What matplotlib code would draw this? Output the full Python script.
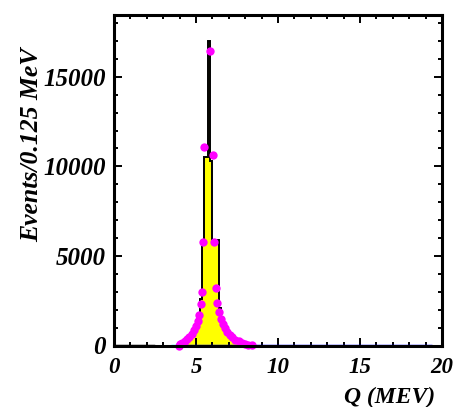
import numpy as np
import matplotlib
matplotlib.use("Agg")
import matplotlib.pyplot as plt
from matplotlib.ticker import MultipleLocator

# Histogram: 0.125 MeV bins over 0-20 MeV; only the listed bins are non-zero
bin_width = 0.125
x_range = (0.0, 20.0)

# low-level yellow entries below the peak
low_edges = [2.375, 2.5, 2.625, 2.75, 2.875, 3.0, 3.125, 3.25, 3.375]
low_counts = [40, 40, 40, 40, 40, 40, 40, 40, 40]

# peak region (lower bin edges and counts)
peak_edges = [4.0, 4.125, 4.25, 4.375, 4.5, 4.625, 4.75, 4.875, 5.0,
              5.125, 5.25, 5.375, 5.5, 5.625, 5.75, 5.875, 6.0, 6.125, 6.25,
              6.375, 6.5, 6.625, 6.75, 6.875, 7.0, 7.125, 7.25, 7.375, 7.5,
              7.625, 7.75, 7.875]
peak_counts = [80, 160, 250, 340, 430, 540, 680, 850, 1050,
               1400, 2600, 5900, 10500, 10500, 17000, 10300, 5900, 5900, 5900,
               2100, 1400, 1000, 750, 560, 430, 320, 240, 175, 125,
               85, 55, 30]

# fitted line shape drawn as markers
fit_x = [3.95, 4.05, 4.15, 4.3, 4.45, 4.6, 4.75, 4.9, 5.0, 5.1, 5.2, 5.28,
         5.35, 5.41, 5.47, 5.84, 6.02, 6.08, 6.2, 6.3, 6.39, 6.5, 6.62,
         6.75, 6.9, 7.05, 7.2, 7.4, 7.6, 7.8, 8.0, 8.2, 8.4]
fit_y = [0, 60, 150, 260, 380, 500, 650, 850, 1100, 1350, 1700, 2300,
         2970, 5770, 11090, 16420, 10640, 5770, 3190, 2400, 1850, 1500, 1200,
         950, 750, 580, 450, 330, 230, 150, 90, 45, 15]

# flat background component
bkg_x = [3.8, 19.4]
bkg_y = [0, 0]
bkg_edge_x = [3.45, 3.8]
bkg_edge_y = [0, 0]

x_ticks = [0, 5, 10, 15, 20]
y_ticks = [0, 5000, 10000, 15000]

W, H, DPI = 458, 407, 100
fig = plt.figure(figsize=(W / DPI, H / DPI), dpi=DPI)
ax = fig.add_axes([114 / W, 1 - 345.5 / H, (442 - 114) / W, (345.5 - 15) / H])

serif = {"family": "Liberation Serif", "weight": "bold", "style": "italic"}

# full binning
edges = np.arange(x_range[0], x_range[1] + bin_width / 2, bin_width)
counts = np.zeros(len(edges) - 1)
for e, c in zip(low_edges + peak_edges, low_counts + peak_counts):
    counts[int(round((e - x_range[0]) / bin_width))] = c

ax.stairs(counts, edges, fill=True, color="#ffff00", zorder=1)

# black outline over the peak region
pk = np.array(peak_edges)
pk_edges = np.append(pk, pk[-1] + bin_width)
ax.stairs(np.array(peak_counts), pk_edges, fill=False, color="black",
          linewidth=1.4, baseline=0, zorder=2)
ax.plot([x_range[0], low_edges[0]], [0, 0], color="black", lw=2.5, zorder=2)

ax.plot(bkg_edge_x, bkg_edge_y, color="#00ffff", lw=2.5, zorder=3,
        solid_capstyle="butt")
ax.plot(bkg_x, bkg_y, color="#0000ff", lw=2.5, zorder=3,
        solid_capstyle="butt")

ax.plot(fit_x, fit_y, linestyle="none", marker="o", markersize=6.0,
        color="#ff00ff", markeredgewidth=0, zorder=4, clip_on=False)

ax.set_xlim(*x_range)
ax.set_ylim(0, 18450)

ax.xaxis.set_major_locator(MultipleLocator(5))
ax.xaxis.set_minor_locator(MultipleLocator(1))
ax.yaxis.set_major_locator(MultipleLocator(5000))
ax.yaxis.set_minor_locator(MultipleLocator(1000))
ax.set_xticks(x_ticks)
ax.set_yticks(y_ticks)
ax.set_xticklabels([str(v) for v in x_ticks])
ax.set_yticklabels([str(v) for v in y_ticks])

ax.tick_params(which="both", direction="in", top=True, right=True,
               width=1.4, color="black")
ax.tick_params(which="major", length=6)
ax.tick_params(which="minor", length=3)
ax.tick_params(axis="x", which="major", pad=8)
ax.tick_params(axis="y", which="major", pad=6)
for lab in ax.get_xticklabels():
    lab.set_fontfamily(serif["family"])
    lab.set_fontweight("bold")
    lab.set_fontstyle("italic")
    lab.set_fontsize(16.5)
for lab in ax.get_yticklabels():
    lab.set_fontfamily(serif["family"])
    lab.set_fontweight("bold")
    lab.set_fontstyle("italic")
    lab.set_fontsize(18)

for sp in ax.spines.values():
    sp.set_linewidth(2.2)
    sp.set_zorder(5)

ax.set_ylabel("Events/0.125 MeV", fontsize=18.5, **serif)
ax.yaxis.set_label_coords((32 - 114) / 328, (345.5 - 145) / 330.5)
ax.yaxis.label.set_rotation_mode("default")
ax.yaxis.label.set_va("center")
ax.yaxis.label.set_ha("center")

ax.set_xlabel("Q (MEV)", fontsize=17, **serif)
ax.xaxis.set_label_coords((435 - 114) / 328, (345.5 - 397) / 330.5)
ax.xaxis.label.set_ha("right")
ax.xaxis.label.set_va("center")

fig.savefig("out.png", dpi=DPI)
